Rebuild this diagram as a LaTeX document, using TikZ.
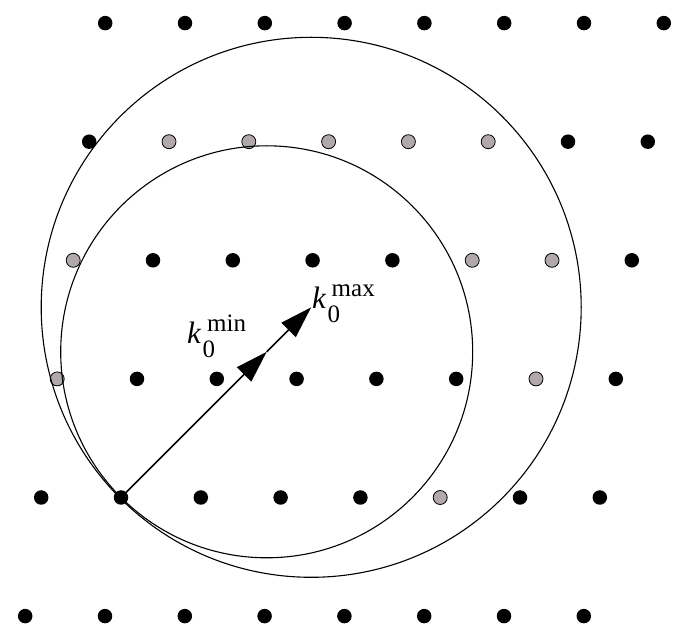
\documentclass[tikz,border=0pt]{standalone}
\usepackage{fontspec}
\setmainfont{Liberation Serif}
\usetikzlibrary{arrows.meta}
\definecolor{dotgray}{RGB}{176,168,172}
\begin{document}
\begin{tikzpicture}[x=1pt,y=-1pt,
  bdot/.style={circle,fill=black,inner sep=0pt,minimum size=14.5pt},
  gdot/.style={circle,fill=dotgray,draw=black,line width=0.8pt,inner sep=0pt,minimum size=14pt},
  ring/.style={draw=black,line width=1.1pt},
  vec/.style={line width=1.6pt,-{Triangle[length=32pt,width=20pt]}},
  lbl/.style={inner sep=0pt,anchor=base west,font=\fontsize{31}{31}\selectfont\itshape},
  scr/.style={inner sep=0pt,anchor=base west,font=\fontsize{25}{25}\selectfont}]
\useasboundingbox (0,0) rectangle (673,628);
% black lattice points
\foreach \r/\ns in {4/{-1,0,1,2,3,4,5,6}, 3/{-1,5,6}, 2/{0,1,2,3,6}, 1/{0,1,2,3,4,6}, 0/{-1,0,1,2,3,5,6}, -1/{-1,0,1,2,3,4,5,6}}
  \foreach \n in \ns
    \node[bdot] (b\r\n) at ({121+16*\r+79.8*\n},{497.5-118.6*\r}) {};
% gray lattice points
\foreach \r/\n in {3/0,3/1,3/2,3/3,3/4,2/-1,2/4,2/5,1/-1,1/5,0/4}
  \node[gdot] (g\r\n) at ({121+16*\r+79.8*\n},{497.5-118.6*\r}) {};
% centres
\coordinate (O) at (121,497.5);
\coordinate (C1) at (266.7,351.8);
\coordinate (C2) at (311.2,307.3);
\draw[ring] (C1) circle[radius=206pt];
\draw[ring] (C2) circle[radius=270pt];
\draw[vec] (O) -- (C1);
\draw[vec] (C1) -- (C2);
% labels
\node[lbl] (kmin) at (187,344) {k};
\node[scr] (kmin0) at (202.5,358) {0};
\node[scr] (kminsup) at (207,332) {min};
\node[lbl] (kmax) at (312,309) {k};
\node[scr] (kmax0) at (327.5,323) {0};
\node[scr] (kmaxsup) at (331.5,297) {max};
\end{tikzpicture}
\end{document}
